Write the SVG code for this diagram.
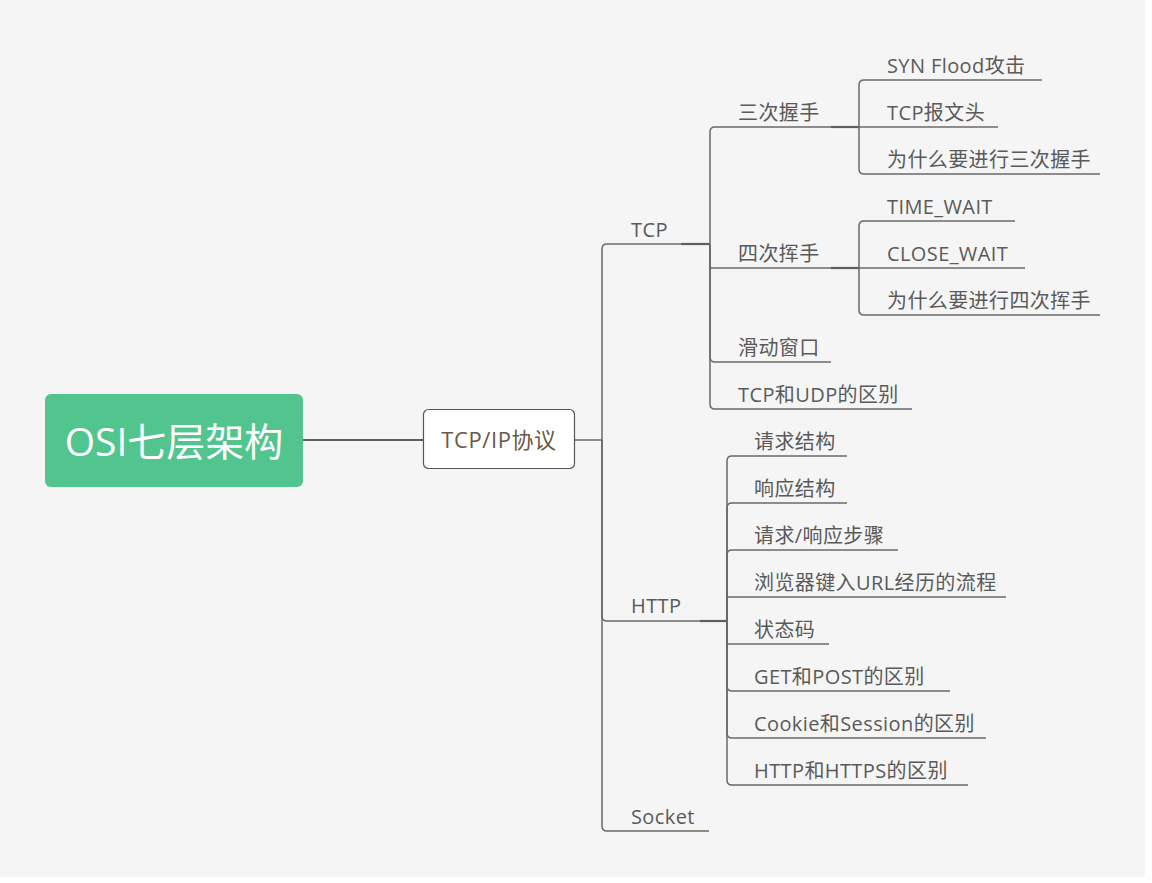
<svg xmlns="http://www.w3.org/2000/svg" width="1152" height="883" viewBox="0 0 1152 883">
<style>
.ln{fill:none;stroke:#6a6a6a;stroke-width:1.5}
.lk{fill:none;stroke:#5e5e5e;stroke-width:2.2}
.t{font-family:"Open Sans","Noto Sans CJK SC",sans-serif;font-size:20px;fill:#5a5a5a;letter-spacing:0.4px}
.sub{font-family:"Open Sans","Noto Sans CJK SC",sans-serif;font-size:22px;fill:#6b5846;text-anchor:middle;letter-spacing:0.6px}
.root{font-family:"Open Sans","Noto Sans CJK SC",sans-serif;font-size:39px;fill:#fff;text-anchor:middle}
</style>
<rect width="1152" height="883" fill="#ffffff"/>
<rect width="1145" height="877" fill="#f5f5f5"/>
<g id="connectors">
<path class="lk" d="M303 440 H423"/>
<path class="ln" d="M575 440 H602"/>
<path class="ln" d="M602 440 V249 Q602 244 607 244 H681"/>
<path class="ln" d="M602 440 V616 Q602 621 607 621 H700"/>
<path class="ln" d="M602 440 V826 Q602 831 607 831 H709"/>
<path class="lk" d="M681 244 H710"/>
<path class="ln" d="M710 244 V132 Q710 127 715 127 H831"/>
<path class="ln" d="M710 244 V268 H831"/>
<path class="ln" d="M710 244 V357 Q710 362 715 362 H831"/>
<path class="ln" d="M710 244 V404 Q710 409 715 409 H912"/>
<path class="lk" d="M831 127 H859"/>
<path class="ln" d="M859 127 V85 Q859 80 864 80 H1042"/>
<path class="ln" d="M859 127 H998"/>
<path class="ln" d="M859 127 V169 Q859 174 864 174 H1100"/>
<path class="lk" d="M831 268 H859"/>
<path class="ln" d="M859 268 V226 Q859 221 864 221 H1015"/>
<path class="ln" d="M859 268 H1025"/>
<path class="ln" d="M859 268 V310 Q859 315 864 315 H1100"/>
<path class="lk" d="M700 621 H727"/>
<path class="ln" d="M727 621 V461 Q727 456 732 456 H847"/>
<path class="ln" d="M727 621 V508 Q727 503 732 503 H847"/>
<path class="ln" d="M727 621 V555 Q727 550 732 550 H898"/>
<path class="ln" d="M727 621 V597 H1006"/>
<path class="ln" d="M727 621 V644 H829"/>
<path class="ln" d="M727 621 V686 Q727 691 732 691 H950"/>
<path class="ln" d="M727 621 V733 Q727 738 732 738 H986"/>
<path class="ln" d="M727 621 V780 Q727 785 732 785 H968"/>
</g>
<g id="root">
<rect x="45" y="394" width="258" height="93" rx="6" fill="#52c58f"/>
<text class="root" x="174" y="456">OSI七层架构</text>
</g>
<g id="tcpip">
<rect x="423.5" y="409.5" width="151" height="59" rx="5" fill="#fff" stroke="#555" stroke-width="1.2"/>
<text class="sub" x="499" y="448">TCP/IP协议</text>
</g>
<g id="tcp"><text class="t" x="631" y="237">TCP</text></g>
<g id="http"><text class="t" x="631" y="613">HTTP</text></g>
<g id="socket"><text class="t" x="631" y="824">Socket</text></g>
<g id="sanci"><text class="t" x="738" y="120">三次握手</text></g>
<g id="sici"><text class="t" x="738" y="261">四次挥手</text></g>
<g id="huadong"><text class="t" x="738" y="355">滑动窗口</text></g>
<g id="tcpudp"><text class="t" x="738" y="402">TCP和UDP的区别</text></g>
<g id="synflood"><text class="t" x="887" y="73">SYN Flood攻击</text></g>
<g id="tcphead"><text class="t" x="887" y="120">TCP报文头</text></g>
<g id="why3"><text class="t" x="887" y="167">为什么要进行三次握手</text></g>
<g id="timewait"><text class="t" x="887" y="214">TIME_WAIT</text></g>
<g id="closewait"><text class="t" x="887" y="261">CLOSE_WAIT</text></g>
<g id="why4"><text class="t" x="887" y="308">为什么要进行四次挥手</text></g>
<g id="req"><text class="t" x="754" y="449">请求结构</text></g>
<g id="resp"><text class="t" x="754" y="496">响应结构</text></g>
<g id="steps"><text class="t" x="754" y="543">请求/响应步骤</text></g>
<g id="url"><text class="t" x="754" y="590">浏览器键入URL经历的流程</text></g>
<g id="status"><text class="t" x="754" y="637">状态码</text></g>
<g id="getpost"><text class="t" x="754" y="684">GET和POST的区别</text></g>
<g id="cookie"><text class="t" x="754" y="731">Cookie和Session的区别</text></g>
<g id="https"><text class="t" x="754" y="778">HTTP和HTTPS的区别</text></g>
</svg>
